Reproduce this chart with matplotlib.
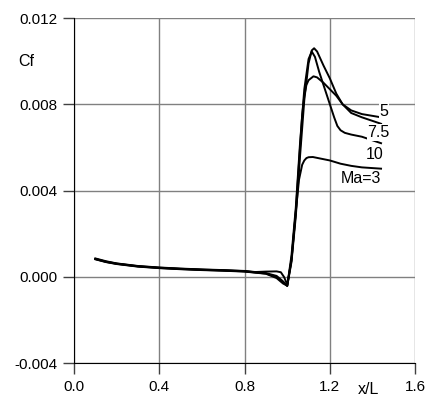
import matplotlib
matplotlib.use("Agg")
import matplotlib.pyplot as plt

plt.rcParams['font.family'] = ['Liberation Sans', 'DejaVu Sans']

# skin friction along x/L for several Mach numbers
base_x = [0.10, 0.15, 0.20, 0.30, 0.40, 0.50, 0.60, 0.70, 0.80, 0.85]

x_ma3 = base_x + [0.90, 0.95, 0.97, 0.985, 1.00, 1.02, 1.04, 1.055, 1.07, 1.08, 1.09,
                  1.10, 1.12, 1.15, 1.20, 1.25, 1.30, 1.35, 1.44]
cf_ma3 = [0.00086, 0.00073, 0.00063, 0.00051, 0.00044, 0.00039, 0.00035, 0.00032, 0.00028, 0.00023,
          0.00025, 0.00026, 0.00022, 0.0000, -0.00035, 0.0008, 0.0030, 0.0045, 0.0052, 0.0054, 0.00551,
          0.00555, 0.00556, 0.0055, 0.0054, 0.00525, 0.00515, 0.00508, 0.00502]

x_ma5 = base_x + [0.90, 0.95, 0.98, 1.00, 1.02, 1.04, 1.06, 1.08, 1.10, 1.115,
                  1.126, 1.14, 1.17, 1.20, 1.23, 1.26, 1.30, 1.35, 1.44]
cf_ma5 = [0.00084, 0.00071, 0.00062, 0.00050, 0.00043, 0.00038, 0.00034, 0.00031, 0.00027, 0.00022,
          0.00018, 0.00005, -0.0002, -0.0004, 0.0007, 0.0028, 0.0056, 0.0082, 0.0099, 0.0105,
          0.0106, 0.01045, 0.0098, 0.0092, 0.0085, 0.0080, 0.00772, 0.00755, 0.0074]

x_ma75 = base_x + [0.90, 0.95, 0.98, 1.00, 1.02, 1.04, 1.06, 1.07, 1.08, 1.09, 1.10,
                   1.123, 1.14, 1.17, 1.20, 1.23, 1.26, 1.30, 1.35, 1.44]
cf_ma75 = [0.00083, 0.00070, 0.00061, 0.00049, 0.00042, 0.00037, 0.00033, 0.00030, 0.00026, 0.00021,
           0.00016, 0.0000, -0.00025, -0.00042, 0.0008, 0.0030, 0.0060, 0.0075, 0.0084, 0.0089, 0.00912,
           0.0093, 0.00925, 0.0090, 0.0087, 0.0084, 0.0080, 0.0076, 0.0074, 0.0071]

x_ma10 = base_x + [0.90, 0.95, 0.98, 1.00, 1.02, 1.04, 1.06, 1.08, 1.10, 1.115,
                   1.13, 1.15, 1.18, 1.20, 1.22, 1.235, 1.25, 1.27, 1.30, 1.35, 1.44]
cf_ma10 = [0.00082, 0.00069, 0.00060, 0.00048, 0.00041, 0.00036, 0.00032, 0.00029, 0.00025, 0.00020,
           0.00015, -0.00005, -0.0003, -0.0004, 0.0010, 0.0032, 0.0062, 0.0087, 0.0101, 0.01045,
           0.0102, 0.0095, 0.0086, 0.0080, 0.0074, 0.0070, 0.0068, 0.00668, 0.0066, 0.0065, 0.0062]

x_ticks = [0.0, 0.4, 0.8, 1.2, 1.6]
x_ticklabels = ['0.0', '0.4', '0.8', '1.2', '1.6']
y_ticks = [-0.004, 0.0, 0.004, 0.008, 0.012]
y_ticklabels = ['-0.004', '0.000', '0.004', '0.008', '0.012']

labels = ['Ma=3', '5', '7.5', '10']
label_pos = [(1.347, 0.00458), (1.455, 0.00768), (1.427, 0.0067), (1.412, 0.00569)]

fig = plt.figure(figsize=(4.28, 4.01), dpi=100)
ax = fig.add_axes([0.173, 0.094, 0.797, 0.861])

for xs, ys in [(x_ma3, cf_ma3), (x_ma5, cf_ma5), (x_ma75, cf_ma75), (x_ma10, cf_ma10)]:
    ax.plot(xs, ys, color='black', lw=1.4, zorder=3)

for text, (tx, ty) in zip(labels, label_pos):
    ax.text(tx, ty, text, ha='center', va='center', fontsize=11.5, zorder=4,
            bbox=dict(facecolor='white', edgecolor='none', pad=0.5))

ax.set_xlim(0.0, 1.6)
ax.set_ylim(-0.004, 0.012)
ax.set_xticks(x_ticks)
ax.set_xticklabels(x_ticklabels, fontsize=11)
ax.set_yticks(y_ticks)
ax.set_yticklabels(y_ticklabels, fontsize=11)
ax.tick_params(direction='out', length=8, width=1, color='#404040', pad=4)

ax.grid(True, color='#808080', lw=1)
ax.set_axisbelow(True)
ax.spines['top'].set_visible(False)
ax.spines['right'].set_visible(False)
ax.spines['left'].set_color('black')
ax.spines['bottom'].set_color('black')

fig.text(26 / 428, 1 - 62 / 401, 'Cf', ha='center', va='center', fontsize=11.5)
ax.text(1.38, -0.0052, 'x/L', ha='center', va='center', fontsize=11.5, clip_on=False)

fig.savefig('out.png', dpi=100, facecolor='white')
